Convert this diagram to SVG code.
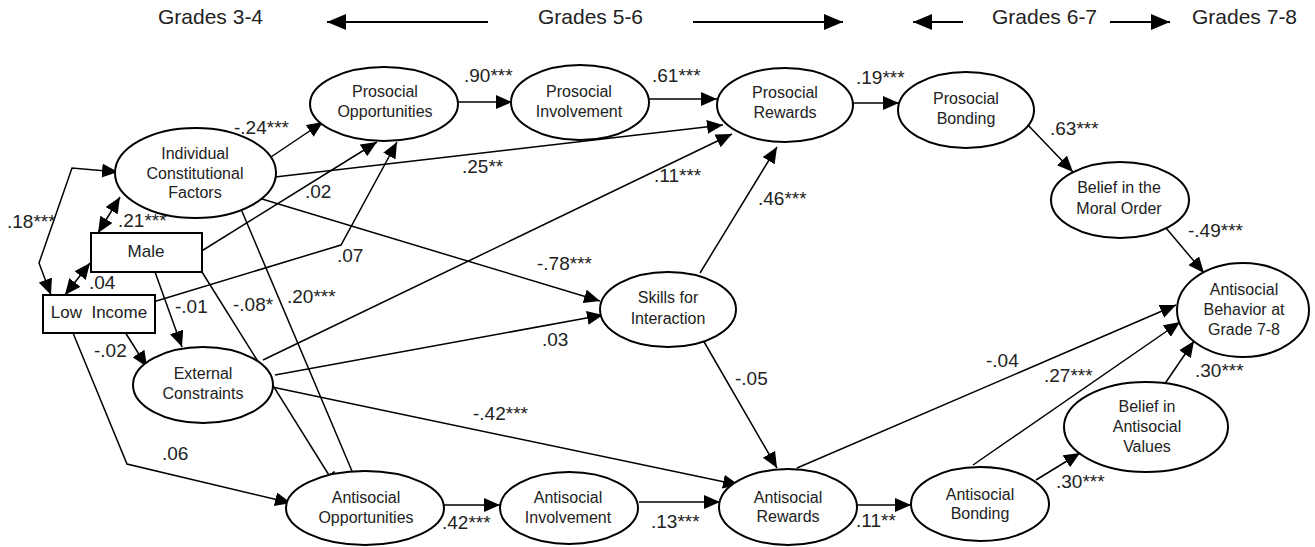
<svg xmlns="http://www.w3.org/2000/svg" width="1315" height="547" viewBox="0 0 1315 547">
  <style>
    .node ellipse, .node rect { fill: #fff; stroke: #000; stroke-width: 2; }
    .node text { font-family: "Liberation Sans", Arial, sans-serif; font-size: 16px; fill: #222; text-anchor: middle; }
    .box text { font-size: 17px; }
    .edge { fill: none; stroke: #000; stroke-width: 1.5; marker-end: url(#ah); }
    .both { marker-start: url(#ah); }
    .lbl { font-family: "Liberation Sans", Arial, sans-serif; font-size: 19px; fill: #222; }
    .hdr { font-family: "Liberation Sans", Arial, sans-serif; font-size: 21px; fill: #222; }
    .harrow { fill: none; stroke: #000; stroke-width: 2; marker-end: url(#hh); }
  </style>
  <defs>
    <marker id="ah" markerUnits="userSpaceOnUse" markerWidth="16" markerHeight="14" refX="16" refY="7" orient="auto-start-reverse">
      <path d="M0,0 L16,7 L0,14 z" fill="#000"/>
    </marker>
    <marker id="hh" markerUnits="userSpaceOnUse" markerWidth="19" markerHeight="16" refX="19" refY="8" orient="auto">
      <path d="M0,0 L19,8 L0,16 z" fill="#000"/>
    </marker>
  </defs>
  <rect width="1315" height="547" fill="#fff"/>

  <!-- grade band header -->
  <g id="header">
    <text class="hdr" x="158" y="24">Grades 3-4</text>
    <text class="hdr" x="538" y="24">Grades 5-6</text>
    <text class="hdr" x="992" y="24">Grades 6-7</text>
    <text class="hdr" x="1192" y="24">Grades 7-8</text>
    <line class="harrow" x1="488" y1="22" x2="327" y2="22"/>
    <line class="harrow" x1="693" y1="22" x2="843" y2="22"/>
    <line class="harrow" x1="963" y1="22" x2="913" y2="22"/>
    <line class="harrow" x1="1110" y1="22" x2="1170" y2="22"/>
  </g>

  <!-- paths between constructs -->
  <g id="connectors">
    <line class="edge" x1="268" y1="159" x2="323" y2="122"/>
    <line class="edge" x1="275" y1="177" x2="723" y2="125"/>
    <line class="edge" x1="262" y1="199" x2="600" y2="301"/>
    <line class="edge" x1="241" y1="209" x2="360" y2="490"/>
    <line class="edge" x1="202" y1="272" x2="337" y2="488"/>
    <line class="edge" x1="200" y1="252" x2="377" y2="142"/>
    <polyline class="edge" points="153,302 341,245 397,142"/>
    <line class="edge" x1="125" y1="332" x2="147" y2="367"/>
    <line class="edge" x1="155" y1="272" x2="182" y2="347"/>
    <line class="edge both" x1="98" y1="233" x2="120" y2="197"/>
    <line class="edge both" x1="90" y1="263" x2="65" y2="295"/>
    <polyline class="edge both" points="118,172 72,168 39,263 51,295"/>
    <polyline class="edge" points="73,333 127,464 291,503"/>
    <line class="edge" x1="263" y1="360" x2="732" y2="134"/>
    <line class="edge" x1="275" y1="375" x2="603" y2="315"/>
    <line class="edge" x1="272" y1="387" x2="739" y2="485"/>
    <line class="edge" x1="458" y1="102" x2="512" y2="102"/>
    <line class="edge" x1="648" y1="99" x2="717" y2="99"/>
    <line class="edge" x1="853" y1="103" x2="899" y2="103"/>
    <line class="edge" x1="1026" y1="123" x2="1073" y2="172"/>
    <line class="edge" x1="1166" y1="228" x2="1204" y2="273"/>
    <line class="edge" x1="700" y1="273" x2="777" y2="147"/>
    <line class="edge" x1="703" y1="340" x2="777" y2="468"/>
    <line class="edge" x1="444" y1="505" x2="500" y2="505"/>
    <line class="edge" x1="639" y1="502" x2="720" y2="502"/>
    <line class="edge" x1="857" y1="505" x2="911" y2="505"/>
    <line class="edge" x1="797" y1="468" x2="1176" y2="305"/>
    <line class="edge" x1="973" y1="465" x2="1180" y2="322"/>
    <line class="edge" x1="1036" y1="480" x2="1080" y2="453"/>
    <line class="edge" x1="1164" y1="385" x2="1194" y2="341"/>
  </g>

  <!-- path coefficients -->
  <g id="coefficients">
    <text class="lbl" x="234" y="134">-.24***</text>
    <text class="lbl" x="462" y="173">.25**</text>
    <text class="lbl" x="537" y="270">-.78***</text>
    <text class="lbl" x="287" y="303">.20***</text>
    <text class="lbl" x="233" y="311">-.08*</text>
    <text class="lbl" x="305" y="198">.02</text>
    <text class="lbl" x="337" y="262">.07</text>
    <text class="lbl" x="94" y="357">-.02</text>
    <text class="lbl" x="175" y="313">-.01</text>
    <text class="lbl" x="118" y="227">.21***</text>
    <text class="lbl" x="89" y="289">.04</text>
    <text class="lbl" x="7" y="228">.18***</text>
    <text class="lbl" x="162" y="460">.06</text>
    <text class="lbl" x="654" y="182">.11***</text>
    <text class="lbl" x="542" y="346">.03</text>
    <text class="lbl" x="473" y="420">-.42***</text>
    <text class="lbl" x="464" y="82">.90***</text>
    <text class="lbl" x="652" y="82">.61***</text>
    <text class="lbl" x="856" y="84">.19***</text>
    <text class="lbl" x="1050" y="135">.63***</text>
    <text class="lbl" x="1188" y="237">-.49***</text>
    <text class="lbl" x="758" y="205">.46***</text>
    <text class="lbl" x="735" y="385">-.05</text>
    <text class="lbl" x="442" y="529">.42***</text>
    <text class="lbl" x="651" y="528">.13***</text>
    <text class="lbl" x="856" y="527">.11**</text>
    <text class="lbl" x="986" y="367">-.04</text>
    <text class="lbl" x="1044" y="382">.27***</text>
    <text class="lbl" x="1056" y="488">.30***</text>
    <text class="lbl" x="1195" y="377">.30***</text>
  </g>

  <g id="icf" class="node">
    <ellipse cx="195.5" cy="173" rx="80.5" ry="45"/>
    <text x="195" y="159">Individual</text>
    <text x="195" y="179">Constitutional</text>
    <text x="195" y="198">Factors</text>
  </g>
  <g id="male" class="node box">
    <rect x="91" y="233" width="111" height="39"/>
    <text x="146" y="257">Male</text>
  </g>
  <g id="low-income" class="node box">
    <rect x="43" y="295" width="112" height="38"/>
    <text x="99" y="318" xml:space="preserve">Low  Income</text>
  </g>
  <g id="external-constraints" class="node">
    <ellipse cx="203" cy="385" rx="70" ry="38"/>
    <text x="203" y="379">External</text>
    <text x="203" y="399">Constraints</text>
  </g>
  <g id="prosocial-opportunities" class="node">
    <ellipse cx="384" cy="104" rx="74" ry="37"/>
    <text x="385" y="97">Prosocial</text>
    <text x="385" y="117">Opportunities</text>
  </g>
  <g id="prosocial-involvement" class="node">
    <ellipse cx="580" cy="102.5" rx="69" ry="37.5"/>
    <text x="579" y="97">Prosocial</text>
    <text x="579" y="117">Involvement</text>
  </g>
  <g id="prosocial-rewards" class="node">
    <ellipse cx="785" cy="105" rx="68" ry="37"/>
    <text x="785" y="98">Prosocial</text>
    <text x="785" y="118">Rewards</text>
  </g>
  <g id="prosocial-bonding" class="node">
    <ellipse cx="966" cy="110" rx="68" ry="38"/>
    <text x="966" y="104">Prosocial</text>
    <text x="966" y="124">Bonding</text>
  </g>
  <g id="moral-order" class="node">
    <ellipse cx="1120" cy="200" rx="69" ry="38"/>
    <text x="1119" y="193">Belief in the</text>
    <text x="1119" y="214">Moral Order</text>
  </g>
  <g id="skills" class="node">
    <ellipse cx="668" cy="309.5" rx="68" ry="37.5"/>
    <text x="668" y="303">Skills for</text>
    <text x="668" y="324">Interaction</text>
  </g>
  <g id="antisocial-behavior" class="node">
    <ellipse cx="1243" cy="310" rx="66" ry="47"/>
    <text x="1244" y="295">Antisocial</text>
    <text x="1244" y="315">Behavior at</text>
    <text x="1244" y="335">Grade 7-8</text>
  </g>
  <g id="antisocial-values" class="node">
    <ellipse cx="1146" cy="427" rx="82" ry="45"/>
    <text x="1147" y="412">Belief in</text>
    <text x="1147" y="432">Antisocial</text>
    <text x="1147" y="452">Values</text>
  </g>
  <g id="antisocial-opportunities" class="node">
    <ellipse cx="365" cy="508" rx="79" ry="37"/>
    <text x="366" y="503">Antisocial</text>
    <text x="366" y="523">Opportunities</text>
  </g>
  <g id="antisocial-involvement" class="node">
    <ellipse cx="569" cy="508" rx="69" ry="36"/>
    <text x="568" y="503">Antisocial</text>
    <text x="568" y="523">Involvement</text>
  </g>
  <g id="antisocial-rewards" class="node">
    <ellipse cx="788" cy="507" rx="69" ry="38"/>
    <text x="788" y="503">Antisocial</text>
    <text x="788" y="522">Rewards</text>
  </g>
  <g id="antisocial-bonding" class="node">
    <ellipse cx="980" cy="504" rx="69" ry="37"/>
    <text x="980" y="500">Antisocial</text>
    <text x="980" y="519">Bonding</text>
  </g>
</svg>
